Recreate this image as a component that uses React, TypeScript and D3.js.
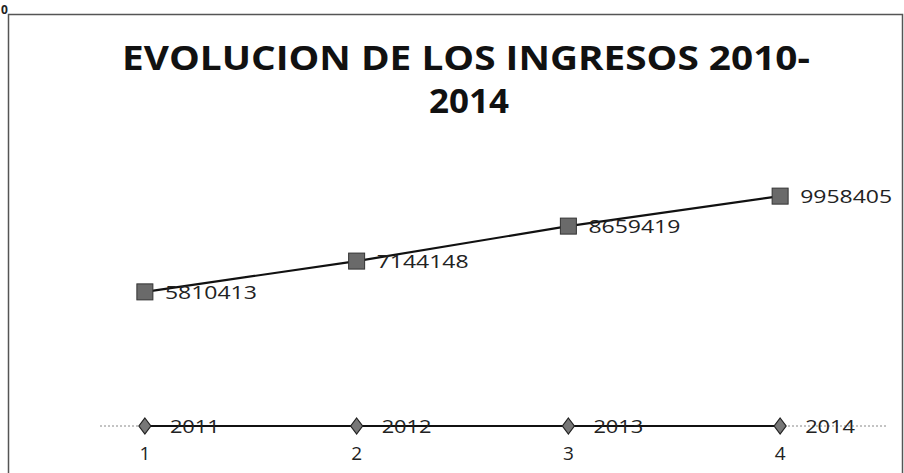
import React from "react";
import * as d3 from "d3";

// categories on the x axis
const categories = [1, 2, 3, 4];
// series 1: years (plotted as values, so they sit on the zero line)
const years = [2011, 2012, 2013, 2014];
// series 2: income
const ingresos = [5810413, 7144148, 8659419, 9958405];

const titleLines = ["EVOLUCION DE LOS INGRESOS 2010-", "2014"];

const W = 904;
const H = 473;
const FONT = "'Open Sans', sans-serif";

const App: React.FC = () => {
    const margin = { left: 39, right: 18 };

    const x = d3
        .scalePoint<number>()
        .domain(categories)
        .range([margin.left, W - margin.right])
        .padding(0.5);

    // zero line ~ y=426, about 23px per million
    const y = d3.scaleLinear().domain([0, 12000000]).range([426, 149]);

    const line = d3
        .line<number>()
        .x((_, i) => x(categories[i]) as number)
        .y(d => y(d));

    return (
        <svg width={W} height={H} style={{ position: "absolute", left: 0, top: 0, background: "#fff" }}>
            <rect x={0} y={0} width={W} height={H} fill="#fff" />
            {/* stray scan mark */}
            <text x={1} y={14} fontFamily={FONT} fontSize={12} fontWeight={700} fill="#222">0</text>
            {/* chart border */}
            <rect x={8.5} y={14.5} width={894} height={470} fill="none" stroke="#555" strokeWidth={1.5} />

            {/* title */}
            <text x={466} y={70} textAnchor="middle" fontFamily={FONT} fontWeight={700}
                fontSize={33.5} fill="#111" textLength={688} lengthAdjust="spacingAndGlyphs">
                {titleLines[0]}
            </text>
            <text x={469} y={113} textAnchor="middle" fontFamily={FONT} fontWeight={700}
                fontSize={33.5} fill="#111" textLength={80} lengthAdjust="spacingAndGlyphs">
                {titleLines[1]}
            </text>

            {/* category axis (faint dotted) */}
            <line x1={100} x2={886} y1={y(0)} y2={y(0)} stroke="#888" strokeWidth={1} strokeDasharray="2,2" />
            {categories.map(c => (
                <text key={c} x={x(c)} y={460} textAnchor="middle" fontFamily={FONT}
                    fontSize={19} fill="#222">
                    {c}
                </text>
            ))}

            {/* series: years */}
            <path d={line(years.map(() => 0)) || ""} fill="none" stroke="#111" strokeWidth={2} />
            {years.map((v, i) => {
                const cx = x(categories[i]) as number;
                const cy = y(0);
                return (
                    <g key={v}>
                        <path d={`M${cx},${cy - 8}L${cx + 6},${cy}L${cx},${cy + 8}L${cx - 6},${cy}Z`}
                            fill="#777" stroke="#222" strokeWidth={1.2} />
                        <text x={cx + 25} y={cy + 7} fontFamily={FONT} fontSize={19}
                            fill="#222" textLength={50} lengthAdjust="spacingAndGlyphs">{v}</text>
                    </g>
                );
            })}

            {/* series: ingresos */}
            <path d={line(ingresos) || ""} fill="none" stroke="#111" strokeWidth={2.2} />
            {ingresos.map((v, i) => {
                const cx = x(categories[i]) as number;
                const cy = y(v);
                return (
                    <g key={v}>
                        <rect x={cx - 8} y={cy - 8} width={16} height={16} fill="#6a6a6a" stroke="#333" strokeWidth={1} />
                        <text x={cx + 20} y={cy + 7} fontFamily={FONT} fontSize={19}
                            fill="#222" textLength={92} lengthAdjust="spacingAndGlyphs">{v}</text>
                    </g>
                );
            })}
        </svg>
    );
};

export default App;
